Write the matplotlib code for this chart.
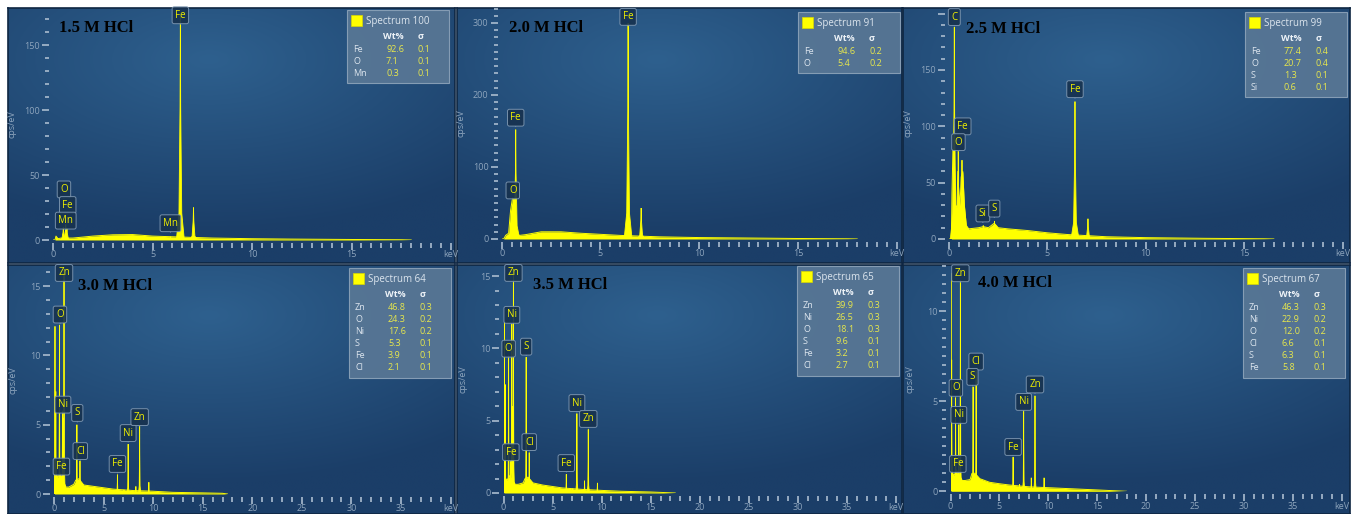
import numpy as np
import matplotlib.pyplot as plt
from matplotlib.patches import Rectangle, FancyBboxPatch

W, H = 1355, 514

titles = ['1.5 M HCl', '2.0 M HCl', '2.5 M HCl', '3.0 M HCl', '3.5 M HCl', '4.0 M HCl']
spectrum_no = [100, 91, 99, 64, 65, 67]

# Wt% tables (element, wt%, sigma)
elem_15 = ['Fe', 'O', 'Mn']
wt_15 = [92.6, 7.1, 0.3]
sig_15 = [0.1, 0.1, 0.1]

elem_20 = ['Fe', 'O']
wt_20 = [94.6, 5.4]
sig_20 = [0.2, 0.2]

elem_25 = ['Fe', 'O', 'S', 'Si']
wt_25 = [77.4, 20.7, 1.3, 0.6]
sig_25 = [0.4, 0.4, 0.1, 0.1]

elem_30 = ['Zn', 'O', 'Ni', 'S', 'Fe', 'Cl']
wt_30 = [46.8, 24.3, 17.6, 5.3, 3.9, 2.1]
sig_30 = [0.3, 0.2, 0.2, 0.1, 0.1, 0.1]

elem_35 = ['Zn', 'Ni', 'O', 'S', 'Fe', 'Cl']
wt_35 = [39.9, 26.5, 18.1, 9.6, 3.2, 2.7]
sig_35 = [0.3, 0.3, 0.3, 0.1, 0.1, 0.1]

elem_40 = ['Zn', 'Ni', 'O', 'Cl', 'S', 'Fe']
wt_40 = [46.3, 22.9, 12.0, 6.6, 6.3, 5.8]
sig_40 = [0.3, 0.2, 0.2, 0.1, 0.1, 0.1]

# continuum (keV, cps/eV)
bg_15 = [(0, 0), (0.1, 0), (0.15, 3), (0.25, 1), (0.4, 1.5), (1.0, 1.5), (2, 3), (3, 4), (4, 4.2),
         (5, 3), (6, 2.5), (7, 2), (8, 1.5), (10, 1), (12, 0.7), (15, 0.4), (17.5, 0.2), (18, 0)]
bg_20 = [(0, 0), (0.1, 0), (0.2, 5), (0.35, 8), (0.45, 40), (0.55, 57), (0.66, 55), (0.76, 8),
         (0.9, 5), (1.2, 6), (2, 10), (3, 10), (4, 8), (5, 6.5), (6, 5), (7, 4), (8, 3), (10, 2),
         (12, 1.5), (15, 0.7), (17.5, 0.3), (18, 0)]
bg_25 = [(0, 0), (0.12, 0), (0.15, 40), (0.2, 79), (0.26, 80), (0.33, 30), (0.4, 28), (0.45, 60),
         (0.5, 40), (0.56, 30), (0.62, 55), (0.7, 60), (0.78, 30), (0.88, 12), (1.0, 9), (1.5, 10),
         (1.75, 11), (2.0, 10), (2.3, 14), (2.5, 10), (3, 9), (4, 7.5), (5, 5.5), (6, 4), (7, 3),
         (8, 2), (10, 1.2), (13, 0.6), (16, 0.2), (16.5, 0)]
bg_30 = [(0, 0), (0.05, 0), (0.1, 2.5), (0.2, 1.5), (0.4, 1.2), (0.6, 1.5), (0.8, 1.2), (1.2, 0.5),
         (1.5, 0.5), (2, 0.7), (2.2, 1), (2.5, 1.1), (3, 0.65), (4, 0.55), (5, 0.45), (6, 0.35),
         (8, 0.25), (10, 0.2), (12, 0.12), (15, 0.08), (17, 0.05), (17.5, 0)]
bg_35 = [(0, 0), (0.05, 0), (0.1, 2), (0.2, 1), (0.4, 0.9), (0.6, 1.2), (0.8, 1.0), (1.2, 0.6),
         (1.5, 0.6), (2, 0.7), (2.2, 1), (2.5, 1.1), (3, 0.7), (4, 0.55), (5, 0.45), (6, 0.35),
         (8, 0.25), (10, 0.18), (12, 0.12), (15, 0.07), (17.5, 0)]
bg_40 = [(0, 0), (0.05, 0), (0.1, 2), (0.2, 1), (0.4, 0.9), (0.6, 1.2), (0.8, 1.0), (1.2, 0.6),
         (1.5, 0.6), (2, 0.65), (2.2, 1), (2.5, 1.0), (3, 0.7), (4, 0.5), (5, 0.42), (6, 0.35),
         (8, 0.25), (10, 0.2), (14, 0.1), (18, 0)]

# peaks (keV, cps/eV)
pk_15 = [(0.52, 10), (0.64, 12), (0.70, 9), (5.90, 2.5), (6.40, 172), (7.06, 25)]
pk_20 = [(0.71, 152), (6.40, 300), (7.06, 43)]
pk_25 = [(0.27, 188), (0.47, 78), (0.66, 70), (1.74, 12), (2.31, 16), (6.40, 122), (7.06, 18)]
pk_30 = [(0.10, 12.1), (0.18, 7.4), (0.55, 12.2), (0.70, 1.4), (0.85, 6.0), (0.93, 5.5),
         (1.01, 15.9), (2.31, 5.0), (2.62, 2.4), (6.40, 1.4), (7.06, 0.3), (7.48, 3.6),
         (8.26, 0.55), (8.64, 4.9), (9.57, 0.85)]
pk_35 = [(0.08, 11.9), (0.18, 7.5), (0.52, 9.5), (0.70, 2.2), (0.85, 11.7), (0.93, 6.0),
         (1.01, 15.5), (2.31, 9.4), (2.62, 2.8), (6.40, 1.3), (7.06, 0.3), (7.48, 5.5),
         (8.26, 0.85), (8.64, 4.4), (9.57, 0.7)]
pk_40 = [(0.05, 12.1), (0.12, 7.3), (0.52, 5.2), (0.70, 1.0), (0.85, 3.7), (1.01, 11.7),
         (2.31, 5.8), (2.62, 6.7), (6.40, 1.9), (7.06, 0.4), (7.48, 4.5), (8.26, 0.75),
         (8.64, 5.3), (9.57, 0.75)]

# peak labels (element, keV, cps/eV at the pointer)
lb_15 = [('Fe', 6.40, 166), ('O', 0.55, 32), ('Fe', 0.74, 20), ('Mn', 0.64, 8), ('Mn', 5.90, 6)]
lb_20 = [('Fe', 6.40, 296), ('Fe', 0.71, 156), ('O', 0.56, 55)]
lb_25 = [('C', 0.27, 189), ('Fe', 0.70, 92), ('O', 0.48, 78), ('Si', 1.72, 14.7), ('S', 2.30, 19),
         ('Fe', 6.40, 125)]
lb_30 = [('Zn', 1.01, 15.3), ('O', 0.60, 12.3), ('Ni', 0.90, 5.8), ('S', 2.35, 5.2), ('Cl', 2.65, 2.45),
         ('Fe', 0.75, 1.33), ('Fe', 6.40, 1.52), ('Ni', 7.48, 3.75), ('Zn', 8.64, 4.9)]
lb_35 = [('Zn', 1.01, 14.6), ('Ni', 0.85, 11.7), ('O', 0.52, 9.36), ('S', 2.31, 9.5), ('Cl', 2.62, 2.9),
         ('Fe', 0.75, 2.2), ('Fe', 6.40, 1.45), ('Ni', 7.48, 5.6), ('Zn', 8.64, 4.5)]
lb_40 = [('Zn', 1.01, 11.6), ('Cl', 2.62, 6.7), ('S', 2.25, 5.85), ('O', 0.55, 5.24), ('Ni', 0.85, 3.74),
         ('Fe', 0.75, 1.02), ('Fe', 6.40, 1.96), ('Ni', 7.48, 4.46), ('Zn', 8.64, 5.43)]

y_max = [178.5, 320.8, 205, 16.45, 15.7, 12.5]
x_max = [20, 20, 20, 40, 40, 40]
y_major = [50, 100, 50, 5, 5, 5]
y_minor = [10, 10, 10, 1, 1, 0.5]
x_minor = [0.5, 0.5, 0.5, 1, 1, 1]

tables = [(elem_15, wt_15, sig_15), (elem_20, wt_20, sig_20), (elem_25, wt_25, sig_25),
          (elem_30, wt_30, sig_30), (elem_35, wt_35, sig_35), (elem_40, wt_40, sig_40)]
continua = [bg_15, bg_20, bg_25, bg_30, bg_35, bg_40]
peaks = [pk_15, pk_20, pk_25, pk_30, pk_35, pk_40]
labels = [lb_15, lb_20, lb_25, lb_30, lb_35, lb_40]

# layout in pixels
panels = [(8, 8, 455, 263), (457, 8, 902, 263), (903, 8, 1350, 263),
          (8, 265, 455, 514), (457, 265, 902, 514), (903, 265, 1350, 514)]
areas = [(53, 451, 240, 8), (501.7, 896.7, 239, 8), (949, 1342.7, 239, 8),
         (54, 450.5, 494, 266), (503.5, 896, 493, 266), (950.5, 1341.7, 491.3, 266)]
title_pos = [(59, 32), (509, 32), (966, 33), (78, 290), (533, 289), (978, 287)]
legend_pos = [(347, 10), (798, 12), (1245, 12), (349, 268), (797, 266), (1243, 268)]

YEL = '#ffff00'
TICK = '#9fb3c8'
LBL = '#8ea5bd'
FONT = ['Open Sans', 'DejaVu Sans']

plt.rcParams['font.family'] = FONT


def fx(x):
    return x / W


def fy(y):
    return 1 - y / H


fig = plt.figure(figsize=(W / 100, H / 100), dpi=100, facecolor='white')

# panel background gradient
gy, gx = np.mgrid[0:1:200j, 0:1:300j]
dist = np.sqrt(((gx - 0.45) / 1.1) ** 2 + ((gy - 0.2) / 0.9) ** 2)
t = np.clip(dist / 0.75, 0, 1)[..., None]
light = np.array([46, 96, 142]) / 255
dark = np.array([27, 62, 104]) / 255
grad = light * (1 - t) + dark * t

for i in range(6):
    l, tp, r, b = panels[i]
    bax = fig.add_axes([fx(l), fy(b), fx(r - l), (b - tp) / H], zorder=0)
    bax.imshow(grad, extent=[0, 1, 0, 1], aspect='auto', origin='upper')
    bax.set_xticks([])
    bax.set_yticks([])
    for s in bax.spines.values():
        s.set_color('#0e2642')
        s.set_linewidth(1.2)

    x0, x1, y0, yt = areas[i]
    ax = fig.add_axes([fx(x0), fy(y0), fx(x1 - x0), (y0 - yt) / H], zorder=1)
    ax.patch.set_alpha(0)
    ax.set_xlim(0, x_max[i])
    ax.set_ylim(0, y_max[i])

    bx = [p[0] for p in continua[i]]
    by = [p[1] for p in continua[i]]
    ax.fill_between(bx, 0, by, color=YEL, lw=0)
    ax.plot(bx, by, color=YEL, lw=0.7)
    hw = 0.2 if x_max[i] == 20 else 0.12
    for e, h in peaks[i]:
        ax.fill([e - hw, e - hw * 0.35, e - hw * 0.08, e, e + hw * 0.08, e + hw * 0.35, e + hw],
                [0, h * 0.12, h * 0.6, h, h * 0.6, h * 0.12, 0], color=YEL, lw=0.6)

    for el, e, yv in labels[i]:
        ax.annotate(el, xy=(e, yv), xytext=(0, 2.5), textcoords='offset points',
                    ha='center', va='bottom', fontsize=7, color='#f0f000',
                    bbox=dict(boxstyle='round,pad=0.3,rounding_size=0.2', fc='#17324f',
                              ec='#7f98b2', lw=0.7, alpha=0.9),
                    arrowprops=dict(arrowstyle='-', color='#7f98b2', lw=0.7,
                                    shrinkA=0, shrinkB=0),
                    annotation_clip=False, zorder=4)

    # axes styling
    for s in ['top', 'right']:
        ax.spines[s].set_visible(False)
    ax.spines['left'].set_position(('outward', 3))
    ax.spines['bottom'].set_position(('outward', 2))
    ax.spines['left'].set_color('none')
    ax.spines['bottom'].set_color('none')

    ymaj = np.arange(0, y_max[i] + 1e-9, y_major[i])
    ax.set_yticks(ymaj)
    ax.set_yticklabels(['%g' % v if v < y_max[i] * 0.97 else '' for v in ymaj])
    ax.set_yticks(np.arange(0, y_max[i] + 1e-9, y_minor[i]), minor=True)
    xmaj = np.arange(0, x_max[i] + 1, 5)
    ax.set_xticks(xmaj)
    ax.set_xticklabels(['%d' % v for v in xmaj[:-1]] + ['keV'])
    ax.set_xticks(np.arange(0, x_max[i] + 1e-9, x_minor[i]), minor=True)

    ax.tick_params(axis='y', which='major', length=5, width=1.3, color=TICK,
                   labelcolor=LBL, labelsize=6.5, pad=1.5)
    ax.tick_params(axis='y', which='minor', length=3, width=1.3, color=TICK)
    ax.tick_params(axis='x', which='major', length=5, width=1.3, color=TICK,
                   labelcolor=LBL, labelsize=6.5, pad=0.5)
    ax.tick_params(axis='x', which='minor', length=3.5, width=1.3, color=TICK)

    ax.set_ylabel('cps/eV', color=LBL, fontsize=6.5)
    ax.yaxis.set_label_coords(-36 / (x1 - x0), 0.5)

    # title
    tx, ty = title_pos[i]
    fig.text(fx(tx), fy(ty), titles[i], fontsize=12, fontweight='bold',
             family='Liberation Serif', color='black', va='baseline', zorder=6)

    # quantification table
    lx, ly = legend_pos[i]
    elem, wt, sig = tables[i]
    bh = 36.5 + 12.2 * len(elem)
    fig.add_artist(FancyBboxPatch((fx(lx), fy(ly + bh)), 102 / W, bh / H,
                                  boxstyle='square,pad=0', transform=fig.transFigure,
                                  fc='#5a7896', ec='#8ea4ba', lw=0.8, alpha=0.9, zorder=5))
    fig.add_artist(Rectangle((fx(lx + 4), fy(ly + 16)), 11 / W, 11 / H,
                             transform=fig.transFigure, fc=YEL, ec='#d8d800', lw=0.5, zorder=6))
    fig.text(fx(lx + 19), fy(ly + 11.5), 'Spectrum %d' % spectrum_no[i], fontsize=7,
             color='#dce5ee', va='center', zorder=7)
    fig.text(fx(lx + 46), fy(ly + 26.5), 'Wt%', fontsize=6.5, fontweight='bold',
             color='#eef3f8', va='center', ha='center', zorder=7)
    fig.text(fx(lx + 74), fy(ly + 26.5), 'σ', fontsize=6.5, fontweight='bold',
             color='#eef3f8', va='center', ha='center', zorder=7)
    for k in range(len(elem)):
        yy = fy(ly + 39 + 12.2 * k)
        fig.text(fx(lx + 6), yy, elem[k], fontsize=6.5, color='#dce5ee', va='center', zorder=7)
        fig.text(fx(lx + 39), yy, '%.1f' % wt[k], fontsize=6.5, color='#e8e84c',
                 va='center', zorder=7)
        fig.text(fx(lx + 71), yy, '%.1f' % sig[k], fontsize=6.5, color='#e8e84c',
                 va='center', zorder=7)

fig.savefig('out.png', dpi=100, facecolor='white')
